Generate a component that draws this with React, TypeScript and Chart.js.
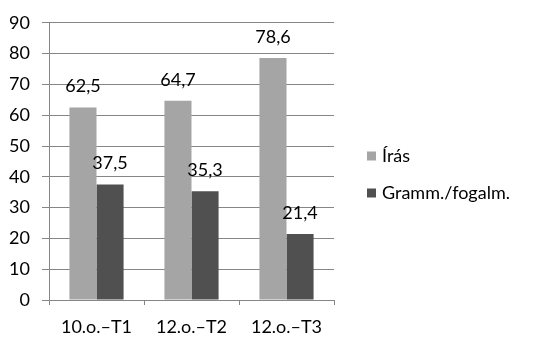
import React, { useEffect, useRef } from "react";
import { Chart, registerables } from "chart.js";

Chart.register(...registerables);

const categories = ["10.o.–T1", "12.o.–T2", "12.o.–T3"];
const irasValues = [62.5, 64.7, 78.6];
const grammValues = [37.5, 35.3, 21.4];
const seriesNames = ["Írás", "Gramm./fogalm."];
const seriesColors = ["#A5A5A5", "#505050"];

const FONT = "Lato, 'Open Sans', sans-serif";
const FS = 18;

const valueLabels = {
  id: "valueLabels",
  afterDatasetsDraw(chart: any) {
    const ctx = chart.ctx;
    ctx.save();
    ctx.font = `${FS}px ${FONT}`;
    ctx.fillStyle = "#000";
    ctx.textAlign = "center";
    ctx.textBaseline = "middle";
    chart.data.datasets.forEach((ds: any, di: number) => {
      const meta = chart.getDatasetMeta(di);
      meta.data.forEach((bar: any, i: number) => {
        const v = ds.data[i] as number;
        const txt = v.toFixed(1).replace(".", ",");
        ctx.fillText(txt, bar.x, bar.y - 21);
      });
    });
    ctx.restore();
  },
};

const sideLegend = {
  id: "sideLegend",
  afterDraw(chart: any) {
    const ctx = chart.ctx;
    ctx.save();
    ctx.font = `${FS}px ${FONT}`;
    ctx.textBaseline = "middle";
    ctx.textAlign = "left";
    const ys = [156, 193];
    chart.data.datasets.forEach((ds: any, di: number) => {
      const y = ys[di];
      ctx.fillStyle = ds.backgroundColor;
      ctx.fillRect(367, y - 4.5, 9, 9);
      ctx.fillStyle = "#000";
      ctx.fillText(ds.label, 382, y);
    });
    ctx.restore();
  },
};

export default function App() {
  const ref = useRef<HTMLCanvasElement | null>(null);
  useEffect(() => {
    if (!ref.current) return;
    const chart = new Chart(ref.current, {
      type: "bar",
      data: {
        labels: categories,
        datasets: [
          { label: seriesNames[0], data: irasValues, backgroundColor: seriesColors[0] },
          { label: seriesNames[1], data: grammValues, backgroundColor: seriesColors[1] },
        ],
      },
      options: {
        animation: false,
        responsive: false,
        maintainAspectRatio: false,
        devicePixelRatio: 1,
        layout: { padding: { top: 19, right: 208, left: 0, bottom: 0 } },
        plugins: { legend: { display: false }, tooltip: { enabled: false } },
        datasets: { bar: { categoryPercentage: 0.57, barPercentage: 1.0 } },
        scales: {
          x: {
            offset: true,
            grid: {
              offset: true,
              drawOnChartArea: false,
              drawTicks: true,
              tickLength: 5,
              color: "#868686",
            },
            border: { color: "#868686" },
            ticks: {
              color: "#000",
              font: { family: FONT, size: FS },
              padding: 11,
              maxRotation: 0,
            },
            afterFit(axis: any) {
              axis.height = 51;
            },
          },
          y: {
            min: 0,
            max: 90,
            ticks: {
              stepSize: 10,
              color: "#000",
              font: { family: FONT, size: FS },
              padding: 12,
            },
            grid: { color: "#868686", tickLength: 7 },
            border: { color: "#868686" },
            afterFit(axis: any) {
              axis.width = 49;
            },
          },
        },
      },
      plugins: [valueLabels, sideLegend],
    });
    return () => chart.destroy();
  }, []);
  return (
    <div style={{ position: "fixed", left: 0, top: 0, width: 542, height: 351, background: "#fff" }}>
      <canvas ref={ref} width={542} height={351} style={{ width: 542, height: 351, display: "block" }} />
    </div>
  );
}
